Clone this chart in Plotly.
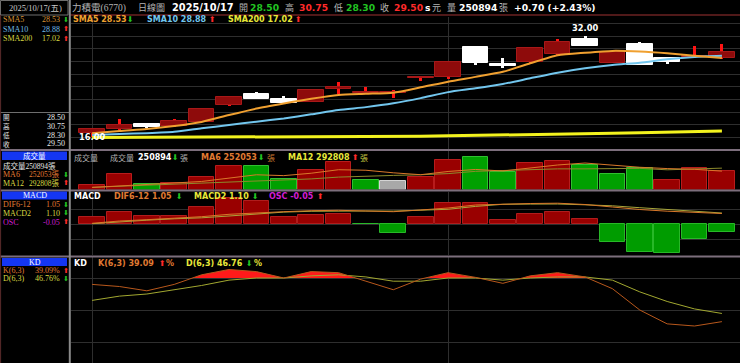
import plotly.graph_objects as go

W, H = 740, 363

# ---------------- data ----------------
opens  = [16.75, 17.28, 18.07, 17.80, 18.48, 21.12, 22.85, 22.11, 21.64, 23.59, 22.95, 22.96,
          25.30, 25.50, 30.22, 27.58, 27.85, 29.16, 31.53, 27.79, 30.74, 28.48, 28.70, 28.50]
highs  = [17.44, 18.86, 18.33, 18.86, 20.50, 22.50, 23.21, 22.54, 23.50, 24.79, 24.00, 23.48,
          25.50, 28.00, 30.22, 28.48, 30.06, 31.48, 32.00, 29.55, 31.10, 28.48, 30.40, 30.75]
lows   = [16.00, 17.20, 17.44, 17.70, 18.40, 20.96, 22.00, 21.30, 21.60, 22.85, 22.90, 22.17,
          24.95, 25.17, 27.43, 26.90, 27.80, 29.00, 30.40, 27.75, 27.40, 27.54, 28.60, 28.30]
closes = [17.28, 17.96, 17.69, 18.64, 20.44, 22.43, 22.11, 21.38, 23.48, 24.00, 23.20, 23.20,
          25.50, 27.95, 27.69, 27.27, 30.06, 31.10, 30.42, 29.52, 27.43, 27.95, 28.80, 29.50]
prev_close_first = 17.00

sma5   = [16.65, 17.02, 17.33, 17.80, 18.45, 19.54, 20.55, 21.35, 22.10, 22.70, 22.88, 23.06,
          23.90, 24.80, 25.55, 26.35, 27.69, 28.95, 29.35, 29.65, 29.55, 29.28, 28.90, 28.53]
sma10  = [16.38, 16.54, 16.68, 16.90, 17.44, 17.96, 18.48, 19.00, 19.65, 20.33, 20.78, 21.38,
          22.20, 23.15, 23.75, 24.43, 25.33, 26.21, 26.90, 27.43, 27.79, 28.32, 28.70, 28.88]
sma200 = [15.98, 15.99, 16.00, 16.01, 16.02, 16.04, 16.06, 16.08, 16.10, 16.12, 16.14, 16.17,
          16.20, 16.25, 16.30, 16.36, 16.43, 16.50, 16.58, 16.66, 16.74, 16.83, 16.92, 17.02]

volume = [55000, 215000, 73000, 86000, 178000, 329000, 329000, 147000, 270000, 374000, 133000, 123000,
          169000, 411000, 443000, 243000, 361000, 388000, 333000, 206000, 298000, 137000, 298000, 250894]
vol_ma6 = [28000, 48000, 66000, 82000, 110000, 156000, 202000, 190000, 223000, 271000, 264000, 229000,
           203000, 247000, 275000, 254000, 292000, 336000, 363000, 329000, 305000, 287000, 277000, 252053]
vol_ma12 = [30000, 45000, 55000, 65000, 80000, 100000, 120000, 130000, 145000, 170000, 185000, 193000,
            202000, 218000, 249000, 262000, 278000, 283000, 283000, 288000, 290000, 270000, 284000, 292808]

dif  = [0.07, 0.30, 0.43, 0.57, 0.73, 0.97, 1.13, 1.23, 1.33, 1.37, 1.30, 1.23,
        1.40, 1.60, 1.90, 2.00, 2.05, 2.08, 1.95, 1.70, 1.45, 1.28, 1.15, 1.05]
macd = [0.03, 0.22, 0.38, 0.52, 0.62, 0.80, 0.98, 1.19, 1.27, 1.31, 1.30, 1.29,
        1.36, 1.47, 1.76, 1.97, 1.99, 2.00, 1.92, 1.82, 1.63, 1.47, 1.25, 1.10]
osc  = [0.044, 0.076, 0.050, 0.050, 0.109, 0.167, 0.151, 0.044, 0.058, 0.065, -0.003, -0.060,
        0.044, 0.134, 0.138, 0.026, 0.065, 0.080, 0.034, -0.115, -0.180, -0.190, -0.097, -0.050]

k_vals = [74, 72, 68, 74, 83, 88, 86, 80, 86, 85, 77, 69, 79, 85, 80.6, 75, 82, 85, 81, 70, 50, 37, 35, 39.09]
d_vals = [59, 63, 65, 69, 73, 78, 80, 80, 82, 83, 81, 77, 77, 80, 80, 78, 80, 81, 81, 78, 67, 58, 51, 46.76]

n = len(closes)
xs = list(range(n))

# ---------------- styles ----------------
RED_BODY = '#8E0B0B'
RED_BODY_LINE = '#A81818'
WICK_RED = '#FF1414'
WHITE = '#FFFFFF'
GREY_TXT = '#B4B4B4'
ORANGE = '#F0A030'
ORANGE2 = '#E07A32'
LBLUE = '#72C6EE'
YELLOW = '#E8E83A'
MAGENTA = '#D21ED2'
GREEN = '#22C422'
RED = '#FF2A2A'
GRID = '#2E2E2E'
SEP = '#7C6E7C'
SANS = 'DejaVu Sans'
SERIF = "'Liberation Serif', 'Noto Sans CJK TC'"
CJK = "'Noto Sans CJK TC'"

fig = go.Figure()

# ---------------- price panel ----------------
up = [c >= o for o, c in zip(opens, closes)]
wick_col = [WICK_RED if u else WHITE for u in up]
fig.add_trace(go.Bar(x=xs, y=[h - l for h, l in zip(highs, lows)], base=lows, width=0.11,
                     marker=dict(color=wick_col, line=dict(width=0)), xaxis='x', yaxis='y'))
body_base = [min(o, c) for o, c in zip(opens, closes)]
body_h = [max(abs(c - o), 0.18) for o, c in zip(opens, closes)]
fig.add_trace(go.Bar(x=xs, y=body_h, base=body_base, width=0.94,
                     marker=dict(color=[RED_BODY if u else WHITE for u in up],
                                 line=dict(color=[RED_BODY_LINE if u else WHITE for u in up], width=1)),
                     xaxis='x', yaxis='y'))
fig.add_trace(go.Scatter(x=xs, y=sma200, mode='lines', line=dict(color='#F2F21E', width=3), xaxis='x', yaxis='y'))
fig.add_trace(go.Scatter(x=xs, y=sma10, mode='lines', line=dict(color=LBLUE, width=2, shape='spline', smoothing=0.6), xaxis='x', yaxis='y'))
fig.add_trace(go.Scatter(x=xs, y=sma5, mode='lines', line=dict(color=ORANGE, width=2, shape='spline', smoothing=0.6), xaxis='x', yaxis='y'))

# ---------------- volume panel ----------------
vcol, vline = [], []
prev = [prev_close_first] + closes[:-1]
for c, p in zip(closes, prev):
    if c > p:
        vcol.append('#990000'); vline.append('#B81C1C')
    elif c < p:
        vcol.append('#00A000'); vline.append('#30C030')
    else:
        vcol.append('#A8A8A8'); vline.append('#D4D4D4')
fig.add_trace(go.Bar(x=xs, y=volume, width=0.94, marker=dict(color=vcol, line=dict(color=vline, width=1)),
                     xaxis='x2', yaxis='y2'))
fig.add_trace(go.Scatter(x=xs, y=vol_ma12, mode='lines', line=dict(color='#8C8A2C', width=1), xaxis='x2', yaxis='y2'))
fig.add_trace(go.Scatter(x=xs, y=vol_ma6, mode='lines', line=dict(color='#D8782A', width=1), xaxis='x2', yaxis='y2'))

# ---------------- MACD panel ----------------
ocol = ['#990000' if v >= 0 else '#009C00' for v in osc]
oline = ['#B01C1C' if v >= 0 else '#28B828' for v in osc]
fig.add_trace(go.Bar(x=xs, y=osc, width=0.94, marker=dict(color=ocol, line=dict(color=oline, width=1)),
                     xaxis='x3', yaxis='y3'))
fig.add_trace(go.Scatter(x=xs, y=macd, mode='lines', line=dict(color='#A8A63A', width=1), xaxis='x3', yaxis='y4'))
fig.add_trace(go.Scatter(x=xs, y=dif, mode='lines', line=dict(color='#D8782A', width=1), xaxis='x3', yaxis='y4'))

# ---------------- KD panel ----------------
LEVEL = 80
fx, fy = [], []
for i in range(n):
    if i > 0 and (k_vals[i - 1] - LEVEL) * (k_vals[i] - LEVEL) < 0:
        t = (LEVEL - k_vals[i - 1]) / (k_vals[i] - k_vals[i - 1])
        fx.append(i - 1 + t); fy.append(LEVEL)
    fx.append(i); fy.append(max(k_vals[i], LEVEL))
fig.add_trace(go.Scatter(x=fx, y=[LEVEL] * len(fx), mode='lines', line=dict(width=0, color='rgba(0,0,0,0)'),
                         xaxis='x4', yaxis='y5'))
fig.add_trace(go.Scatter(x=fx, y=fy, mode='lines', line=dict(width=0, color='rgba(0,0,0,0)'),
                         fill='tonexty', fillcolor='#FF1A1A', xaxis='x4', yaxis='y5'))
fig.add_trace(go.Scatter(x=xs, y=d_vals, mode='lines', line=dict(color='#A2A830', width=1), xaxis='x4', yaxis='y5'))
fig.add_trace(go.Scatter(x=xs, y=k_vals, mode='lines', line=dict(color='#B8581C', width=1), xaxis='x4', yaxis='y5'))

# ---------------- axes ----------------
def pf(py):
    return 1 - py / H

xr = [-0.77, 23.66]
xdom = [71 / W, 1]
xcommon = dict(domain=xdom, range=xr, tickvals=[0, 13], showticklabels=False, showgrid=True,
               gridcolor=GRID, gridwidth=1, zeroline=False, showline=False, ticks='')
ycommon = dict(showticklabels=False, zeroline=False, showline=False, ticks='')

PX_PER = 6.34  # price scale
p_top = 32 + (36 - 17) / PX_PER
p_bot = 32 - (149 - 36) / PX_PER
VPX = 13710
fig.update_layout(
    xaxis=dict(anchor='y', **xcommon),
    xaxis2=dict(anchor='y2', **xcommon),
    xaxis3=dict(anchor='y3', **xcommon),
    xaxis4=dict(anchor='y5', **xcommon),
    yaxis=dict(domain=[pf(149), pf(17)], range=[p_bot, p_top], tickvals=list(range(16, 36, 2)),
               showgrid=True, gridcolor=GRID, **ycommon),
    yaxis2=dict(domain=[pf(189.5), pf(151)], range=[0, 38.5 * VPX], showgrid=False, **ycommon),
    yaxis3=dict(domain=[pf(255), pf(192)], range=[-31 * 0.0065, 32 * 0.0065], showgrid=False, **ycommon),
    yaxis4=dict(overlaying='y3', anchor='x3', range=[-3.1, 3.2], tickvals=[-1.5, 0, 1.5],
                showgrid=True, gridcolor=GRID, **ycommon),
    yaxis5=dict(domain=[0, pf(257)], range=[0.31, 99.69], tickvals=[20, 50, 80], showgrid=True,
                gridcolor=GRID, **ycommon),
)

# ---------------- shapes ----------------
shapes = []
def hline(y, x0, x1, color, w):
    shapes.append(dict(type='line', xref='paper', yref='paper', x0=x0 / W, x1=x1 / W, y0=pf(y), y1=pf(y),
                       line=dict(color=color, width=w)))
def vline(x, y0, y1, color, w):
    shapes.append(dict(type='line', xref='paper', yref='paper', x0=x / W, x1=x / W, y0=pf(y0), y1=pf(y1),
                       line=dict(color=color, width=w)))
def rect(x0, y0, x1, y1, fill, line, w=1):
    shapes.append(dict(type='rect', xref='paper', yref='paper', x0=x0 / W, x1=x1 / W, y0=pf(y1), y1=pf(y0),
                       fillcolor=fill, line=dict(color=line, width=w)))

hline(15, 70, 740, '#6B2222', 1.5)
rect(0.5, 0.5, 68, 15, 'rgba(0,0,0,0)', '#6E6E6E', 1)
hline(112.5, 0, 69, '#6E6E6E', 1)
for ysep in (150, 190.5, 256.5):
    hline(ysep, 0, 740, SEP, 2)
vline(69.8, 0, 363, '#8A8A8A', 2)
vline(0.6, 15, 363, '#5A2A2A', 1)
BLUE = '#1436F2'
rect(2, 151.5, 67, 160, BLUE, BLUE, 0)
rect(2, 191.5, 67, 199.5, BLUE, BLUE, 0)
rect(2, 258, 67, 266, BLUE, BLUE, 0)

# ---------------- texts ----------------
ann = []
def T(x, y, s, color, size=9.0, fam=SANS, xa='left'):
    ann.append(dict(x=x / W, y=pf(y), xref='paper', yref='paper', text=s, showarrow=False,
                    xanchor=xa, yanchor='middle', borderpad=0, font=dict(color=color, size=size, family=fam)))
UP = '⬆'
DN = '⬇'
AS = 8  # arrow size

# main header
T(71, 7.5, '力積電(6770)', GREY_TXT, 9.5, SERIF)
T(137, 7.5, '日線圖', GREY_TXT, 9, CJK)
T(171, 7.5, '<b>2025/10/17</b>', WHITE, 9.8)
T(238, 7.5, '開', GREY_TXT, 9, CJK)
T(249, 7.5, '<b>28.50</b>', GREEN, 9.2)
T(284, 7.5, '高', GREY_TXT, 9, CJK)
T(298, 7.5, '<b>30.75</b>', RED, 9.2)
T(333, 7.5, '低', GREY_TXT, 9, CJK)
T(345, 7.5, '<b>28.30</b>', GREEN, 9.2)
T(379, 7.5, '收', GREY_TXT, 9, CJK)
T(393, 7.5, '<b>29.50</b>', RED, 9.2)
T(424, 7.5, '<b>s</b>', WHITE, 9.2)
T(431, 7.5, '元', GREY_TXT, 9, CJK)
T(446, 7.5, '量', GREY_TXT, 9, CJK)
T(458, 7.5, '<b>250894</b>', WHITE, 9.2)
T(498, 7.5, '張', GREY_TXT, 9, CJK)
T(513, 7.5, '<b>+0.70 (+2.43%)</b>', WHITE, 9.2)

# price sub header
T(72, 19.5, '<b>SMA5 28.53</b>', ORANGE, 8)
T(126, 19.5, DN, GREEN, AS)
T(146, 19.5, '<b>SMA10 28.88</b>', LBLUE, 8)
T(208, 19.5, UP, RED, AS)
T(227, 19.5, '<b>SMA200 17.02</b>', YELLOW, 8)
T(294, 19.5, UP, RED, AS)

# extremes
imax = highs.index(max(highs))
imin = lows.index(min(lows))
ann.append(dict(x=imax, y=max(highs), xref='x', yref='y', text='<b>%.2f</b>' % max(highs), showarrow=False,
                yanchor='bottom', yshift=1, font=dict(color=WHITE, size=8.3, family=SANS)))
ann.append(dict(x=imin, y=min(lows), xref='x', yref='y', text='<b>%.2f</b>' % min(lows), showarrow=False,
                yanchor='middle', font=dict(color=WHITE, size=8.3, family=SANS)))

# volume header
T(73, 157, '成交量', GREY_TXT, 8, CJK)
T(109, 157, '成交量', GREY_TXT, 8, CJK)
T(137, 157, '<b>250894</b>', WHITE, 8)
T(171, 157, DN, GREEN, AS)
T(179, 157, '張', GREY_TXT, 8, CJK)
T(200, 157, '<b>MA6 252053</b>', ORANGE2, 8)
T(257, 157, DN, GREEN, AS)
T(266, 157, '張', '#C87A30', 8, CJK)
T(287, 157, '<b>MA12 292808</b>', YELLOW, 8)
T(351, 157, UP, RED, AS)
T(359, 157, '張', '#C8C840', 8, CJK)

# MACD header
T(73, 196, '<b>MACD</b>', WHITE, 8)
T(113, 196, '<b>DIF6-12 1.05</b>', ORANGE2, 8)
T(175, 196, DN, GREEN, AS)
T(193, 196, '<b>MACD2 1.10</b>', YELLOW, 8)
T(251, 196, DN, GREEN, AS)
T(268, 196, '<b>OSC -0.05</b>', MAGENTA, 8)
T(316, 196, UP, RED, AS)

# KD header
T(73, 263.5, '<b>KD</b>', WHITE, 8)
T(97, 263.5, '<b>K(6,3) 39.09</b>', ORANGE2, 8)
T(158, 263.5, UP, RED, AS)
T(165, 263.5, '<b>%</b>', ORANGE2, 8)
T(185, 263.5, '<b>D(6,3) 46.76</b>', YELLOW, 8)
T(245, 263.5, DN, GREEN, AS)
T(253, 263.5, '<b>%</b>', YELLOW, 8)

# left panel
LP = '#E6E6E6'
LS = 8     # left serif size
LC = 7.5   # left CJK size
T(35, 8, '2025/10/17(五)', '#C8C8C8', 8.5, SERIF, 'center')
T(2, 19.5, 'SMA5', '#D89434', LS, SERIF)
T(61, 19.5, '28.53', '#D89434', LS, SERIF, 'right')
T(65.5, 19.5, DN, GREEN, 7, SANS, 'center')
T(2, 29, 'SMA10', '#70BCE6', LS, SERIF)
T(61, 29, '28.88', '#70BCE6', LS, SERIF, 'right')
T(65.5, 29, UP, RED, 7, SANS, 'center')
T(2, 38.5, 'SMA200', '#D8D842', LS, SERIF)
T(61, 38.5, '17.02', '#D8D842', LS, SERIF, 'right')
T(65.5, 38.5, UP, RED, 7, SANS, 'center')

for yy, lab, val in [(117.4, '開', '28.50'), (126.2, '高', '30.75'), (135.0, '低', '28.30'), (143.8, '收', '29.50')]:
    T(2, yy, lab, LP, 6.6, CJK)
    T(66, yy, val, LP, LS, SERIF, 'right')

T(34.5, 155.8, '成交量', WHITE, LC, CJK, 'center')
T(2, 165.5, '成交量250894張', LP, 7.5, SERIF)
T(2, 174.5, 'MA6', '#E07A32', LS, SERIF)
T(61, 174.5, '252053張', '#E07A32', 7.5, SERIF, 'right')
T(65.5, 174.5, DN, GREEN, 7, SANS, 'center')
T(2, 183.5, 'MA12', '#D8D842', LS, SERIF)
T(61, 183.5, '292808張', '#D8D842', 7.5, SERIF, 'right')
T(65.5, 183.5, UP, RED, 7, SANS, 'center')

T(34.5, 195.5, 'MACD', WHITE, LS, SERIF, 'center')
T(2, 204.5, 'DIF6-12', '#E07A32', LS, SERIF)
T(61, 204.5, '1.05', '#E07A32', LS, SERIF, 'right')
T(65.5, 204.5, DN, GREEN, 7, SANS, 'center')
T(2, 213.3, 'MACD2', '#D8D842', LS, SERIF)
T(61, 213.3, '1.10', '#D8D842', LS, SERIF, 'right')
T(65.5, 213.3, DN, GREEN, 7, SANS, 'center')
T(2, 222, 'OSC', MAGENTA, LS, SERIF)
T(61, 222, '-0.05', MAGENTA, LS, SERIF, 'right')
T(65.5, 222, UP, RED, 7, SANS, 'center')

T(34.5, 262, 'KD', WHITE, LS, SERIF, 'center')
T(2, 270.5, 'K(6,3)', '#E07A32', LS, SERIF)
T(61, 270.5, '39.09%', '#E07A32', LS, SERIF, 'right')
T(65.5, 270.5, UP, RED, 7, SANS, 'center')
T(2, 278.5, 'D(6,3)', '#D8D842', LS, SERIF)
T(61, 278.5, '46.76%', '#D8D842', LS, SERIF, 'right')
T(65.5, 278.5, DN, GREEN, 7, SANS, 'center')

fig.update_layout(
    width=W, height=H, margin=dict(l=0, r=0, t=0, b=0),
    paper_bgcolor='#000000', plot_bgcolor='#000000',
    showlegend=False, barmode='overlay', bargap=0,
    shapes=shapes, annotations=ann,
)

fig.write_html('out.html', config={'displayModeBar': False})
